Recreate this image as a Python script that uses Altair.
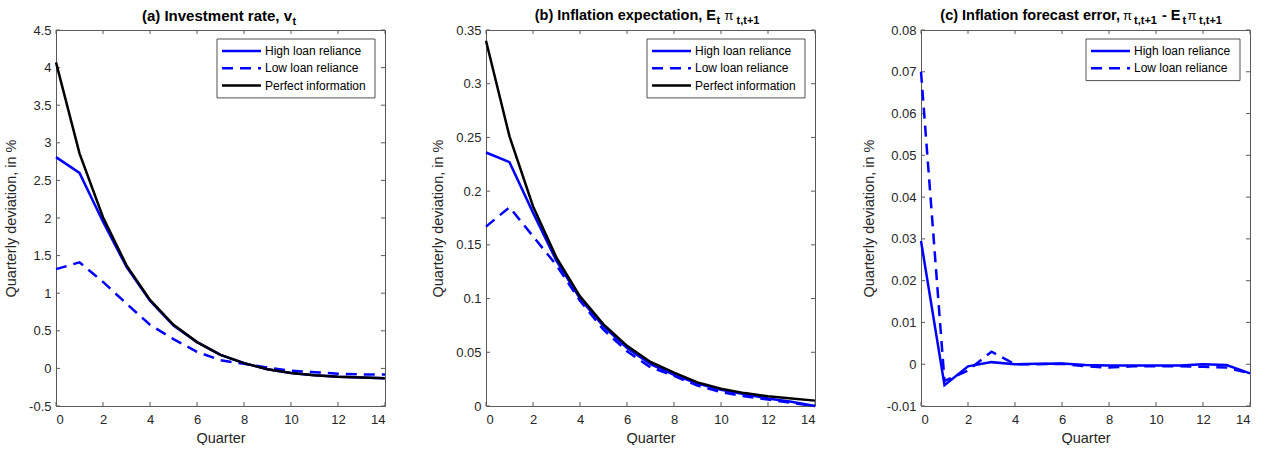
import altair as alt
import pandas as pd

# ---------------- data ----------------
quarters = list(range(15))
series_names = ["High loan reliance", "Low loan reliance", "Perfect information"]

inv_high = [2.81, 2.60, 1.95, 1.35, 0.90, 0.57, 0.35, 0.18, 0.07, -0.01, -0.06, -0.09, -0.11, -0.12, -0.13]
inv_low = [1.32, 1.41, 1.15, 0.86, 0.58, 0.39, 0.22, 0.11, 0.06, 0.01, -0.03, -0.05, -0.07, -0.08, -0.08]
inv_perfect = [4.07, 2.86, 2.01, 1.37, 0.91, 0.58, 0.35, 0.18, 0.07, -0.01, -0.06, -0.09, -0.11, -0.12, -0.13]

exp_high = [0.236, 0.227, 0.180, 0.135, 0.100, 0.074, 0.054, 0.039, 0.029, 0.021, 0.015, 0.011, 0.007, 0.004, 0.000]
exp_low = [0.167, 0.185, 0.158, 0.131, 0.098, 0.071, 0.051, 0.036, 0.028, 0.019, 0.013, 0.009, 0.006, 0.003, 0.000]
exp_perfect = [0.340, 0.251, 0.186, 0.138, 0.102, 0.076, 0.056, 0.041, 0.031, 0.022, 0.016, 0.012, 0.009, 0.007, 0.005]

err_high = [0.0295, -0.0050, -0.0005, 0.0005, 0.0000, 0.0001, 0.0002, -0.0002, -0.0003, -0.0003,
            -0.0003, -0.0003, 0.0000, -0.0002, -0.0022]
err_low = [0.0700, -0.0040, -0.0015, 0.0030, 0.0000, 0.0000, 0.0001, -0.0005, -0.0008, -0.0005,
           -0.0005, -0.0005, -0.0006, -0.0008, -0.0022]

x_ticks = [0, 2, 4, 6, 8, 10, 12, 14]
yticks_a = [-0.5, 0, 0.5, 1, 1.5, 2, 2.5, 3, 3.5, 4, 4.5]
yticks_b = [0, 0.05, 0.1, 0.15, 0.2, 0.25, 0.3, 0.35]
yticks_c = [-0.01, 0, 0.01, 0.02, 0.03, 0.04, 0.05, 0.06, 0.07, 0.08]

# ---------------- style ----------------
W, H = 329, 376
FONT = "Liberation Sans"
AX = "#262626"
BOX = "#5a5a5a"
LW = 2.5
style = {
    "High loan reliance": {"color": "#0000ff", "dash": None},
    "Low loan reliance": {"color": "#0000ff", "dash": [11, 7]},
    "Perfect information": {"color": "#000000", "dash": None},
}
one = pd.DataFrame({"k": [0]})


def panel(series, ydomain, yticks, title_segs, legend_left, legend_names):
    xs = alt.Scale(domain=[0, 14], nice=False, zero=False)
    ys = alt.Scale(domain=ydomain, nice=False, zero=False)
    xaxis = alt.Axis(values=x_ticks, title="Quarter", labelPadding=7, titlePadding=5, grid=False,
                     ticks=False, domain=False)
    yaxis = alt.Axis(values=yticks, title="Quarterly deviation, in %", labelPadding=5, titlePadding=10,
                     grid=False, ticks=False, domain=False,
                     labelExpr="replace(format(datum.value, '~g'), '\u2212', '-')")
    layers = []
    # inward ticks
    xt = pd.DataFrame({"x": x_ticks})
    yt = pd.DataFrame({"y": yticks})
    for (a, b) in [(H, H - 4), (0, 4)]:
        layers.append(alt.Chart(xt).mark_rule(color=BOX, strokeWidth=1).encode(
            x=alt.X("x:Q", scale=xs, axis=xaxis), y=alt.value(a), y2=alt.value(b)))
    for (a, b) in [(0, 4), (W, W - 4)]:
        layers.append(alt.Chart(yt).mark_rule(color=BOX, strokeWidth=1).encode(
            y=alt.Y("y:Q", scale=ys, axis=yaxis), x=alt.value(a), x2=alt.value(b)))
    # lines
    for name, vals in series:
        df = pd.DataFrame({"x": quarters, "y": vals})
        st = style[name]
        kw = {"strokeDash": st["dash"]} if st["dash"] else {}
        layers.append(alt.Chart(df).mark_line(color=st["color"], strokeWidth=LW, **kw).encode(
            x=alt.X("x:Q", scale=xs, axis=xaxis), y=alt.Y("y:Q", scale=ys, axis=yaxis)))
    # legend box
    n = len(legend_names)
    top, rowh = 9, 17.3
    layers.append(alt.Chart(one).mark_rect(fill="white", stroke=AX, strokeWidth=0.8).encode(
        x=alt.value(legend_left), x2=alt.value(W - 10), y=alt.value(top), y2=alt.value(top + 7 + rowh * n)))
    for i, name in enumerate(legend_names):
        st = style[name]
        yy = top + 12 + rowh * i
        kw = {"strokeDash": st["dash"]} if st["dash"] else {}
        layers.append(alt.Chart(one).mark_rule(color=st["color"], strokeWidth=LW, **kw).encode(
            x=alt.value(legend_left + 5), x2=alt.value(legend_left + 44), y=alt.value(yy)))
        layers.append(alt.Chart(one).mark_text(align="left", baseline="middle", font=FONT, fontSize=12,
                                               color="#000000").encode(
            x=alt.value(legend_left + 48), y=alt.value(yy), text=alt.value(name)))
    # title segments
    for (txt, tx, ty, size, weight, align) in title_segs:
        layers.append(alt.Chart(one).mark_text(align=align, baseline="alphabetic", font=FONT, fontSize=size,
                                               fontWeight=weight, color="#000000").encode(
            x=alt.value(tx), y=alt.value(ty), text=alt.value(txt)))
    return alt.layer(*layers).properties(width=W, height=H)


pa = panel([("High loan reliance", inv_high), ("Low loan reliance", inv_low), ("Perfect information", inv_perfect)],
           [-0.5, 4.5], yticks_a,
           [("(a) Investment rate, v", 236, -9.5, 15, "bold", "right"),
            ("t", 236.5, -5.5, 11, "bold", "left")],
           161, series_names)
pb = panel([("High loan reliance", exp_high), ("Low loan reliance", exp_low), ("Perfect information", exp_perfect)],
           [0, 0.35], yticks_b,
           [("(b) Inflation expectation, E", 230, -10, 14.5, "bold", "right"),
            ("t", 230.5, -6, 11, "bold", "left"),
            ("\u03c0", 238.5, -10, 13, "normal", "left"),
            ("t,t+1", 250.5, -6, 11, "bold", "left")],
           161, series_names)
pc = panel([("High loan reliance", err_high), ("Low loan reliance", err_low)],
           [-0.01, 0.08], yticks_c,
           [("(c) Inflation forecast error,", 199, -10, 14.5, "bold", "right"),
            ("\u03c0", 202, -10, 13, "normal", "left"),
            ("t,t+1", 213, -6, 11, "bold", "left"),
            ("- E", 241, -10, 14.5, "bold", "left"),
            ("t", 261.5, -6, 11, "bold", "left"),
            ("\u03c0", 266.5, -10, 13, "normal", "left"),
            ("t,t+1", 278, -6, 11, "bold", "left")],
           165, series_names[:2])

chart = alt.hconcat(pa, pb, pc, spacing=39).properties(
    padding={"left": 3, "top": 7, "right": 5, "bottom": 0}, background="white"
).configure_view(stroke=BOX, strokeWidth=1).configure_axis(
    labelFont=FONT, titleFont=FONT, labelFontSize=13, titleFontSize=14.5, titleFontWeight="normal",
    labelColor=AX, titleColor=AX, grid=False, ticks=False, domain=False
)

chart.save("out.html", embed_options={"renderer": "svg", "actions": False})
